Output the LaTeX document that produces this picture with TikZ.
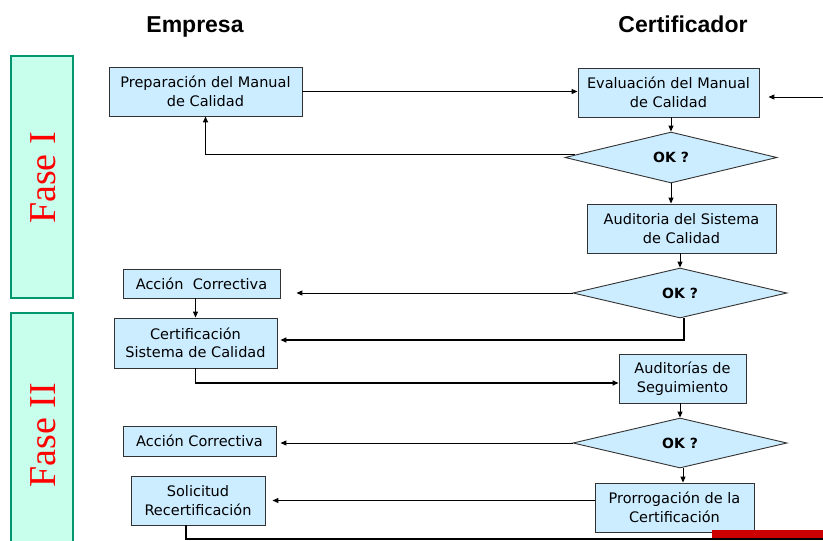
\documentclass[tikz,border=0pt]{standalone}
\usepackage{fontspec}
\usetikzlibrary{arrows.meta,shapes.geometric}
\newfontfamily\boxfont{DejaVu Sans}
\newfontfamily\headfont{Liberation Sans}
\newfontfamily\fasefont{Liberation Serif}
\definecolor{boxfill}{RGB}{204,236,255}
\definecolor{boxline}{RGB}{50,50,50}
\definecolor{fasefill}{RGB}{200,255,236}
\definecolor{faseline}{RGB}{0,150,110}
\definecolor{barred}{RGB}{204,0,0}
\tikzset{
  stepbox/.style={draw=boxline, fill=boxfill, line width=0.9pt, inner sep=0pt, align=center,
    font=\boxfont\fontsize{14.5}{18.5}\selectfont},
  decision/.style={diamond, draw=boxline, fill=boxfill, line width=0.9pt, inner sep=0pt,
    font=\boxfont\bfseries\fontsize{14}{16}\selectfont},
  conn/.style={line width=1pt, draw=black},
  arr/.style={conn, -{Triangle[length=6pt,width=5pt]}},
  thickconn/.style={line width=1.7pt, draw=black},
  fasebox/.style={draw=faseline, fill=fasefill, line width=1.8pt},
  fasetext/.style={rotate=90, text=red, font=\fasefont\fontsize{38}{40}\selectfont},
  heading/.style={font=\headfont\bfseries\fontsize{23}{26}\selectfont, anchor=base}
}
\begin{document}
\begin{tikzpicture}[x=1pt,y=-1pt]
\useasboundingbox (0,0) rectangle (823,541);

% phase bands
\draw[fasebox] (11,56) rectangle (73,298);
\draw[fasebox] (11,313) rectangle (73,560);
\node[fasetext] (f1) at (43,178) {Fase I};
\node[fasetext] (f2) at (43,435) {Fase II};

% headings
\node[heading] (hemp) at (195,32) {Empresa};
\node[heading] (hcert) at (683,32) {Certificador};

% boxes
\node[stepbox, minimum width=193pt, minimum height=49pt] (prep) at (205.5,91.5) {Preparación del Manual\\de Calidad};
\node[stepbox, minimum width=181pt, minimum height=49pt] (eval) at (668.5,92.5) {Evaluación del Manual\\de Calidad};
\node[decision, minimum width=212pt, minimum height=51pt] (d1) at (671,157.5) {OK ?};
\node[stepbox, minimum width=189pt, minimum height=49pt] (aud) at (681.5,228.5) {Auditoria del Sistema\\de Calidad};
\node[decision, minimum width=214pt, minimum height=50pt] (d2) at (680,293) {OK ?};
\node[stepbox, minimum width=157pt, minimum height=29pt] (ac1) at (201.5,283.5) {Acción\ \ Correctiva};
\node[stepbox, minimum width=163pt, minimum height=50pt] (cert) at (195.5,343) {Certificación\\Sistema de Calidad};
\node[stepbox, minimum width=127pt, minimum height=49pt] (seg) at (682.5,378.5) {Auditorías de\\Seguimiento};
\node[decision, minimum width=214pt, minimum height=50pt] (d3) at (680,443) {OK ?};
\node[stepbox, minimum width=153pt, minimum height=30pt] (ac2) at (199.5,441) {Acción Correctiva};
\node[stepbox, minimum width=134pt, minimum height=49pt] (sol) at (198,500.5) {Solicitud\\Recertificación};
\node[stepbox, minimum width=159pt, minimum height=49pt] (pro) at (674.5,507.5) {Prorrogación de la\\Certificación};

% free ends
\coordinate (rin) at (823,97);
\coordinate (rout) at (823,539);

% connectors
\draw[arr] (prep.east) -- (prep.east -| eval.west);
\draw[arr] (rin) -- ([xshift=9pt]eval.east |- rin);
\draw[arr] (eval.south -| d1.north) -- (d1.north);
\draw[thickconn, -{Triangle[length=6pt,width=5pt]}] ([xshift=10pt,yshift=3pt]d1.west) -| (prep.south);
\draw[arr] (d1.south) -- (d1.south |- aud.north);
\draw[arr] (d2.north |- aud.south) -- (d2.north);
\draw[arr] (d2.west) -- ([xshift=16pt]ac1.east |- d2.west);
\draw[thickconn, -{Triangle[length=6pt,width=5pt]}] ([xshift=4pt]d2.south) |- ([xshift=3pt,yshift=3pt]cert.east);
\draw[arr] (ac1.south -| cert.north) -- (cert.north);
\draw[thickconn, -{Triangle[length=6pt,width=5pt]}] (cert.south) |- ([yshift=-4.5pt]seg.west);
\draw[arr] (d3.north |- seg.south) -- (d3.north);
\draw[arr] (d3.west) -- ([xshift=4pt]ac2.east |- d3.west);
\draw[arr] ([xshift=3pt]d3.south) -- ([xshift=3pt]d3.south |- pro.north);
\draw[arr] (pro.west |- sol.east) -- ([xshift=7pt]sol.east);

% bottom bar
\fill[barred] (712,530) rectangle (823,538);
\draw[thickconn] ([xshift=-12pt]sol.south) |- (rout);
\end{tikzpicture}
\end{document}
